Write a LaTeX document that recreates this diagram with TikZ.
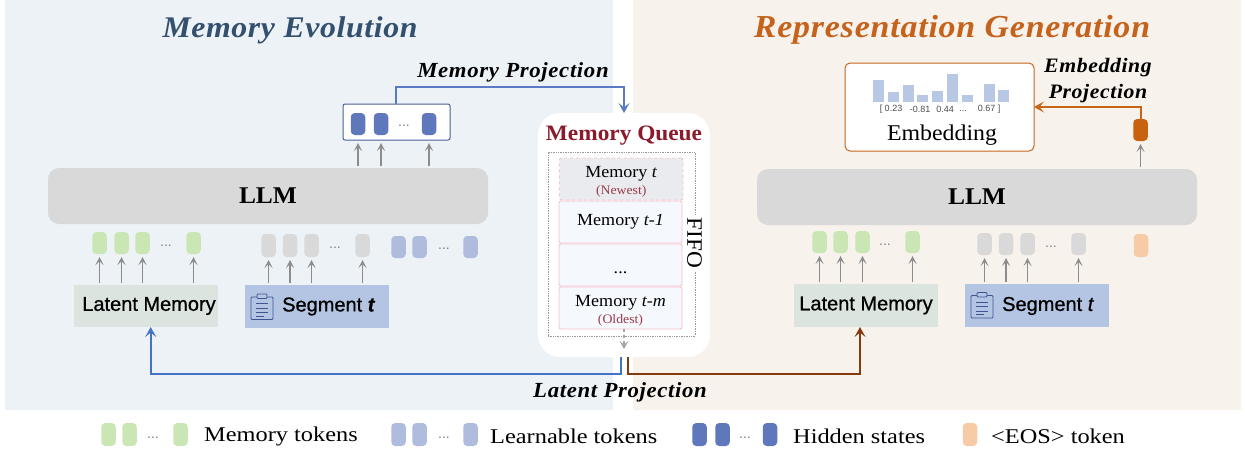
\documentclass[tikz,border=0pt]{standalone}
\usepackage{fontspec}
\setmainfont[FakeStretch=1.06]{Liberation Serif}
\newfontfamily\sanf[FakeBold=0.8]{Liberation Sans}
\newfontfamily\plainsans{Liberation Sans}
\newfontfamily\titlef[LetterSpace=2,FakeStretch=1.06]{Liberation Serif}
\newfontfamily\titleg[LetterSpace=2.5,FakeStretch=1.06]{Liberation Serif}
\newfontfamily\labelf[LetterSpace=3,FakeStretch=1.06]{Liberation Serif}
\newfontfamily\legf[FakeStretch=1.16]{Liberation Serif}
\usetikzlibrary{arrows.meta,calc}
\definecolor{panelL}{HTML}{EDF2F7}
\definecolor{panelR}{HTML}{F7F2EC}
\definecolor{titleL}{HTML}{34506F}
\definecolor{titleR}{HTML}{C5631C}
\definecolor{tokG}{HTML}{CBE6B5}
\definecolor{tokN}{HTML}{D9D9D9}
\definecolor{tokB}{HTML}{B0BCDD}
\definecolor{tokD}{HTML}{5F78BC}
\definecolor{tokO}{HTML}{F7CBA6}
\definecolor{tokE}{HTML}{C8620F}
\definecolor{arrG}{HTML}{8C8C8C}
\definecolor{arrB}{HTML}{4472C4}
\definecolor{arrT}{HTML}{5B79C4}
\definecolor{arrW}{HTML}{843C0C}
\definecolor{arrO}{HTML}{C8651B}
\definecolor{boxLat}{HTML}{DBE4DE}
\definecolor{boxSeg}{HTML}{B4C5E4}
\definecolor{bar}{HTML}{B8C8E4}
\definecolor{cellF}{HTML}{F5F8FD}
\definecolor{cellD}{HTML}{F5C2CB}
\definecolor{cellN}{HTML}{E9EBEE}
\definecolor{qred}{HTML}{8B1A2B}
\definecolor{qsub}{HTML}{9B3A4A}
\definecolor{iconc}{HTML}{3F5590}
\newcommand{\rbox}[6]{\node[#2,minimum width={(#5-(#3))*1pt},minimum height={(#6-(#4))*1pt}] (#1) at ({(#3+#5)/2},{(#4+#6)/2}) {};}
\newcommand{\tbox}[7]{\node[#2,minimum width={(#5-(#3))*1pt},minimum height={(#6-(#4))*1pt}] (#1) at ({(#3+#5)/2},{(#4+#6)/2}) {#7};}
\newcommand{\tok}[5]{\node[tokn,fill=#2,minimum height=#5] (#1) at (#3,#4) {};}
\newcommand{\dotz}[3]{\node[dotn] (#1) at (#2,#3) {...};}
\newcommand{\clipicon}[2]{\begin{scope}[shift={(#1,#2)},draw=iconc,line width=0.9pt]
\draw[rounded corners=1pt] (0,3.5) rectangle (22,26);
\draw[rounded corners=1pt,fill=boxSeg] (6,0.5) rectangle (16,5);
\draw (5,10) -- (17,10) (5,14.5) -- (17,14.5) (5,19) -- (17,19) (5,22.5) -- (13,22.5);
\end{scope}}
\newcommand{\fs}{\rule{0pt}{17pt}}
\tikzset{
 panel/.style={draw=none,inner sep=0,outer sep=0},
 tokn/.style={draw=none,rounded corners=4pt,minimum width=14.5pt,inner sep=0,outer sep=0},
 dotn/.style={text=black!50,font=\plainsans\fontsize{14}{14}\selectfont,inner sep=0},
 gar/.style={draw=arrG,line width=1.3pt,-{Stealth[length=8pt,width=8pt,inset=4pt]},shorten <=2pt,shorten >=3pt},
 conn/.style={line width=2pt,-{Stealth[length=10pt,width=11pt,inset=4.5pt]}},
 llm/.style={fill=tokN,rounded corners=11pt,inner sep=0,outer sep=0,font=\bfseries\fontsize{24}{24}\selectfont},
 sbox/.style={inner sep=0,outer sep=0,font=\sanf\fontsize{20}{20}\selectfont},
 cell/.style={draw=cellD,fill=cellF,line width=0.9pt,rounded corners=2pt,inner sep=0,outer sep=0,align=center,font=\fontsize{17}{17}\selectfont},
 ttl/.style={inner sep=0,font=\bfseries\itshape},
 lab/.style={inner sep=0,align=center,font=\labelf\bfseries\itshape\fontsize{21.5}{26}\selectfont},
 leg/.style={inner sep=0,anchor=west,font=\legf\fontsize{21}{21}\selectfont},
 num/.style={inner sep=0,text=black!70,font=\plainsans\fontsize{9}{9}\selectfont},
}
\begin{document}
\begin{tikzpicture}[x=1pt,y=-1pt]
\useasboundingbox (0,0) rectangle (1245,453);
\rbox{pl}{panel,fill=panelL}{5}{0}{613}{410}
\rbox{pr}{panel,fill=panelR}{633}{0}{1241}{410}
\node[ttl,text=titleL] (tl) at (290,30) {\titlef\bfseries\itshape\fontsize{30}{30}\selectfont Memory Evolution};
\node[ttl,text=titleR] (tr) at (952,30) {\titleg\bfseries\itshape\fontsize{32}{32}\selectfont Representation Generation};
% LLMs
\tbox{llmL}{llm}{48}{168}{488}{224}{LLM}
\tbox{llmR}{llm}{757}{169}{1197}{225}{LLM}
% hidden box
\rbox{hb}{draw=tokD!80!black,fill=white,line width=1pt,rounded corners=2pt,inner sep=0,outer sep=0}{343}{104}{450}{140}
\tok{h1}{tokD}{358}{124}{22pt}\tok{h2}{tokD}{381}{124}{22pt}\tok{h3}{tokD}{429}{124}{22pt}
\dotz{hd}{404}{126}
% left tokens
\foreach \n/\x in {g1/99.5,g2/121.5,g3/142.5,g4/193.5}{\tok{\n}{tokG}{\x}{243}{22pt}}
\dotz{gd}{166}{245.5}
\foreach \n/\x in {n1/268.5,n2/290,n3/311.5,n4/362.5}{\tok{\n}{tokN}{\x}{245.5}{23pt}}
\dotz{nd}{335}{248}
\foreach \n/\x in {b1/398.5,b2/419.5,b3/470.5}{\tok{\n}{tokB}{\x}{247}{22pt}}
\dotz{bd}{444}{249}
% left boxes
\tbox{lmL}{sbox,fill=boxLat}{74}{285}{218}{327}{\hspace{6pt}\raisebox{-1pt}{Latent Memory}}
\rbox{sgL}{sbox,fill=boxSeg}{245}{285}{389}{328}
\node[inner sep=0,anchor=west,font=\sanf\fontsize{20}{20}\selectfont] (sgLt) at (282,306.5) {Segment \textit{\textbf{t}}};
\clipicon{251}{293.5}
% right tokens
\foreach \n/\x in {rg1/819.5,rg2/840.5,rg3/862.5,rg4/912.5}{\tok{\n}{tokG}{\x}{242}{22pt}}
\dotz{rgd}{885}{245}
\foreach \n/\x in {rn1/984.5,rn2/1006,rn3/1027.5,rn4/1078.5}{\tok{\n}{tokN}{\x}{244}{22pt}}
\dotz{rnd}{1051}{247}
\tok{ro}{tokO}{1141}{245.5}{23pt}
% right boxes
\tbox{lmR}{sbox,fill=boxLat}{794}{284}{938}{327}{\raisebox{-2pt}{Latent Memory}}
\rbox{sgR}{sbox,fill=boxSeg}{965}{284}{1109}{327}
\node[inner sep=0,anchor=west,font=\sanf\fontsize{20}{20}\selectfont] (sgRt) at (1002,306) {Segment \textit{t}};
\clipicon{971}{292}
% gray arrows
\foreach \n in {g1,g2,g3,g4}{\draw[gar] (\n |- lmL.north) -- (\n.south);}
\foreach \n in {n1,n2,n3,n4}{\draw[gar] (\n |- sgL.north) -- (\n.south);}
\foreach \n in {rg1,rg2,rg3,rg4}{\draw[gar] (\n |- lmR.north) -- (\n.south);}
\foreach \n in {rn1,rn2,rn3,rn4}{\draw[gar] (\n |- sgR.north) -- (\n.south);}
\foreach \n in {h1,h2,h3}{\draw[gar] (\n |- llmL.north) -- (\n |- hb.south);}
% Queue
\rbox{q}{fill=white,rounded corners=22pt,inner sep=0,outer sep=0}{538}{113}{710}{357}
\node[inner sep=0,text=qred,font=\bfseries\fontsize{22}{22}\selectfont] (qt) at (624,135.5) {Memory Queue};
\rbox{qd}{draw=black!40,densely dotted,line width=0.7pt,inner sep=0,outer sep=0}{548}{152}{695}{336}
\tbox{c0}{cell,fill=cellN,dashed}{559.5}{158}{683}{200}{\fs Memory \textit{t}\\[0pt]{\fontsize{13}{13}\selectfont\color{qsub}(Newest)}}
\tbox{c1}{cell}{559}{201}{682}{243}{Memory \textit{t-1}}
\tbox{c2}{cell}{559}{244}{682}{286}{\fs...}
\tbox{c3}{cell}{559}{287}{682}{329}{\fs Memory \textit{t-m}\\[0pt]{\fontsize{13}{13}\selectfont\color{qsub}(Oldest)}}
\node[rotate=-90,fill=white,inner xsep=3pt,inner ysep=2pt,font=\fontsize{22}{22}\selectfont] (ff) at (694.5,243) {FIFO};
\coordinate (qtip) at (624,349);
\draw[draw=black!35,line width=1.3pt,dashed,-{Stealth[length=8pt,width=9pt,inset=3.5pt]}] (qtip |- c3.south) -- (qtip);
% Embedding
\rbox{em}{draw=arrO,fill=white,line width=1pt,rounded corners=5pt,inner sep=0,outer sep=0}{845}{63}{1034}{151}
\foreach \a/\b/\t in {873/884/80,888/899/92,903/914/85,917/928/95,932/943/91,947/958/74,962/973/95,984/995/84,998/1009/90}{\fill[bar] (\a,\t) rectangle (\b,101.7);}
\node[num] (e1) at (891,109.5) {[ 0.23};
\node[num] (e2) at (920,109.5) {-0.81};
\node[num] (e3) at (945,109.5) {0.44};
\node[num] (e4) at (963,111) {...};
\node[num] (e5) at (989,109.5) {0.67 ]};
\node[inner sep=0,font=\fontsize{22.5}{22.5}\selectfont] (emt) at (942,135) {Embedding};
\tok{eo}{tokE}{1140.5}{130}{22pt}
\draw[gar] (eo |- llmR.north) -- (eo.south);
\coordinate (eoc) at (1140.5,107);
\draw[conn,draw=arrO] (eo.north) -- (eoc) -- (eoc -| em.east);
% Connectors
\coordinate (mp1) at (396,104);
\coordinate (mp2) at (396,87);
\coordinate (mp3) at (624,87);
\draw[conn,draw=arrT] (mp1) -- (mp2) -- (mp3) -- (mp3 |- q.north);
\coordinate (lb) at (620.7,357);
\coordinate (lb2) at (620.7,374);
\coordinate (lb3) at (150.7,374);
\coordinate (lr) at (628,357);
\coordinate (lr2) at (628,374);
\coordinate (lr3) at (860,374);
\draw[conn,draw=arrB] (lb) -- (lb2) -- (lb3) -- (lb3 |- lmL.south);
\draw[conn,draw=arrW] (lr) -- (lr2) -- (lr3) -- (lr3 |- lmR.south);
% labels
\node[lab] (ml) at (513,72) {Memory Projection};
\node[lab] (ll) at (620,392.5) {Latent Projection};
\node[lab,font=\labelf\bfseries\itshape\fontsize{20.5}{26}\selectfont] (el) at (1098,81) {Embedding\\Projection};
% legend
\tok{l1}{tokG}{108.5}{434.5}{23pt}\tok{l2}{tokG}{129.5}{434.5}{23pt}\tok{l3}{tokG}{180.5}{434.5}{23pt}
\dotz{ld1}{153}{438}
\node[leg] (lt1) at (204,436.5) {Memory tokens};
\tok{l4}{tokB}{398.5}{434.5}{23pt}\tok{l5}{tokB}{419.5}{434.5}{23pt}\tok{l6}{tokB}{470.5}{434.5}{23pt}
\dotz{ld2}{444}{438}
\node[leg] (lt2) at (490,436.5) {Learnable tokens};
\tok{l7}{tokD}{699.5}{434.5}{23pt}\tok{l8}{tokD}{722.5}{434.5}{23pt}\tok{l9}{tokD}{770}{434.5}{23pt}
\dotz{ld3}{745}{438}
\node[leg] (lt3) at (793,436.5) {Hidden states};
\tok{l10}{tokO}{970}{434.5}{23pt}
\node[leg] (lt4) at (991,436.5) {<EOS> token};
\end{tikzpicture}
\end{document}
